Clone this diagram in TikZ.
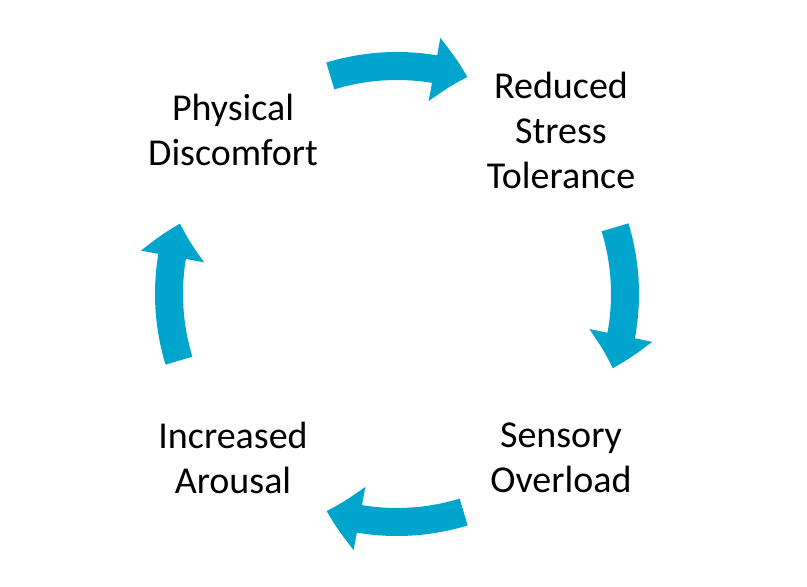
\documentclass[tikz,border=0pt]{standalone}
\usepackage{fontspec}
\setmainfont{Carlito}
\usetikzlibrary{arrows.meta,bending}
\definecolor{arr}{RGB}{0,165,206}
\begin{document}
\begin{tikzpicture}[x=1pt,y=1pt,
  lbl/.style={align=center,font=\fontsize{38}{45}\selectfont,text=black},
  cyc/.style={draw=arr,line width=28pt,-{Triangle[width=62pt,length=34pt,bend]}}]
\useasboundingbox (0,0) rectangle (807,587);
\coordinate (c) at (397,293);
\node[lbl] (pd) at (233,457) {Physical\\Discomfort};
\node[lbl] (rs) at (561,457) {Reduced\\Stress\\Tolerance};
\node[lbl] (so) at (561,129) {Sensory\\Overload};
\node[lbl] (ia) at (233,129) {Increased\\Arousal};
\draw[cyc] ([shift={(107:228)}]c) arc (107:72:228);
\draw[cyc] ([shift={(17:228)}]c) arc (17:-19:228);
\draw[cyc] ([shift={(-73:228)}]c) arc (-73:-108:228);
\draw[cyc] ([shift={(197:228)}]c) arc (197:162:228);
\end{tikzpicture}
\end{document}
